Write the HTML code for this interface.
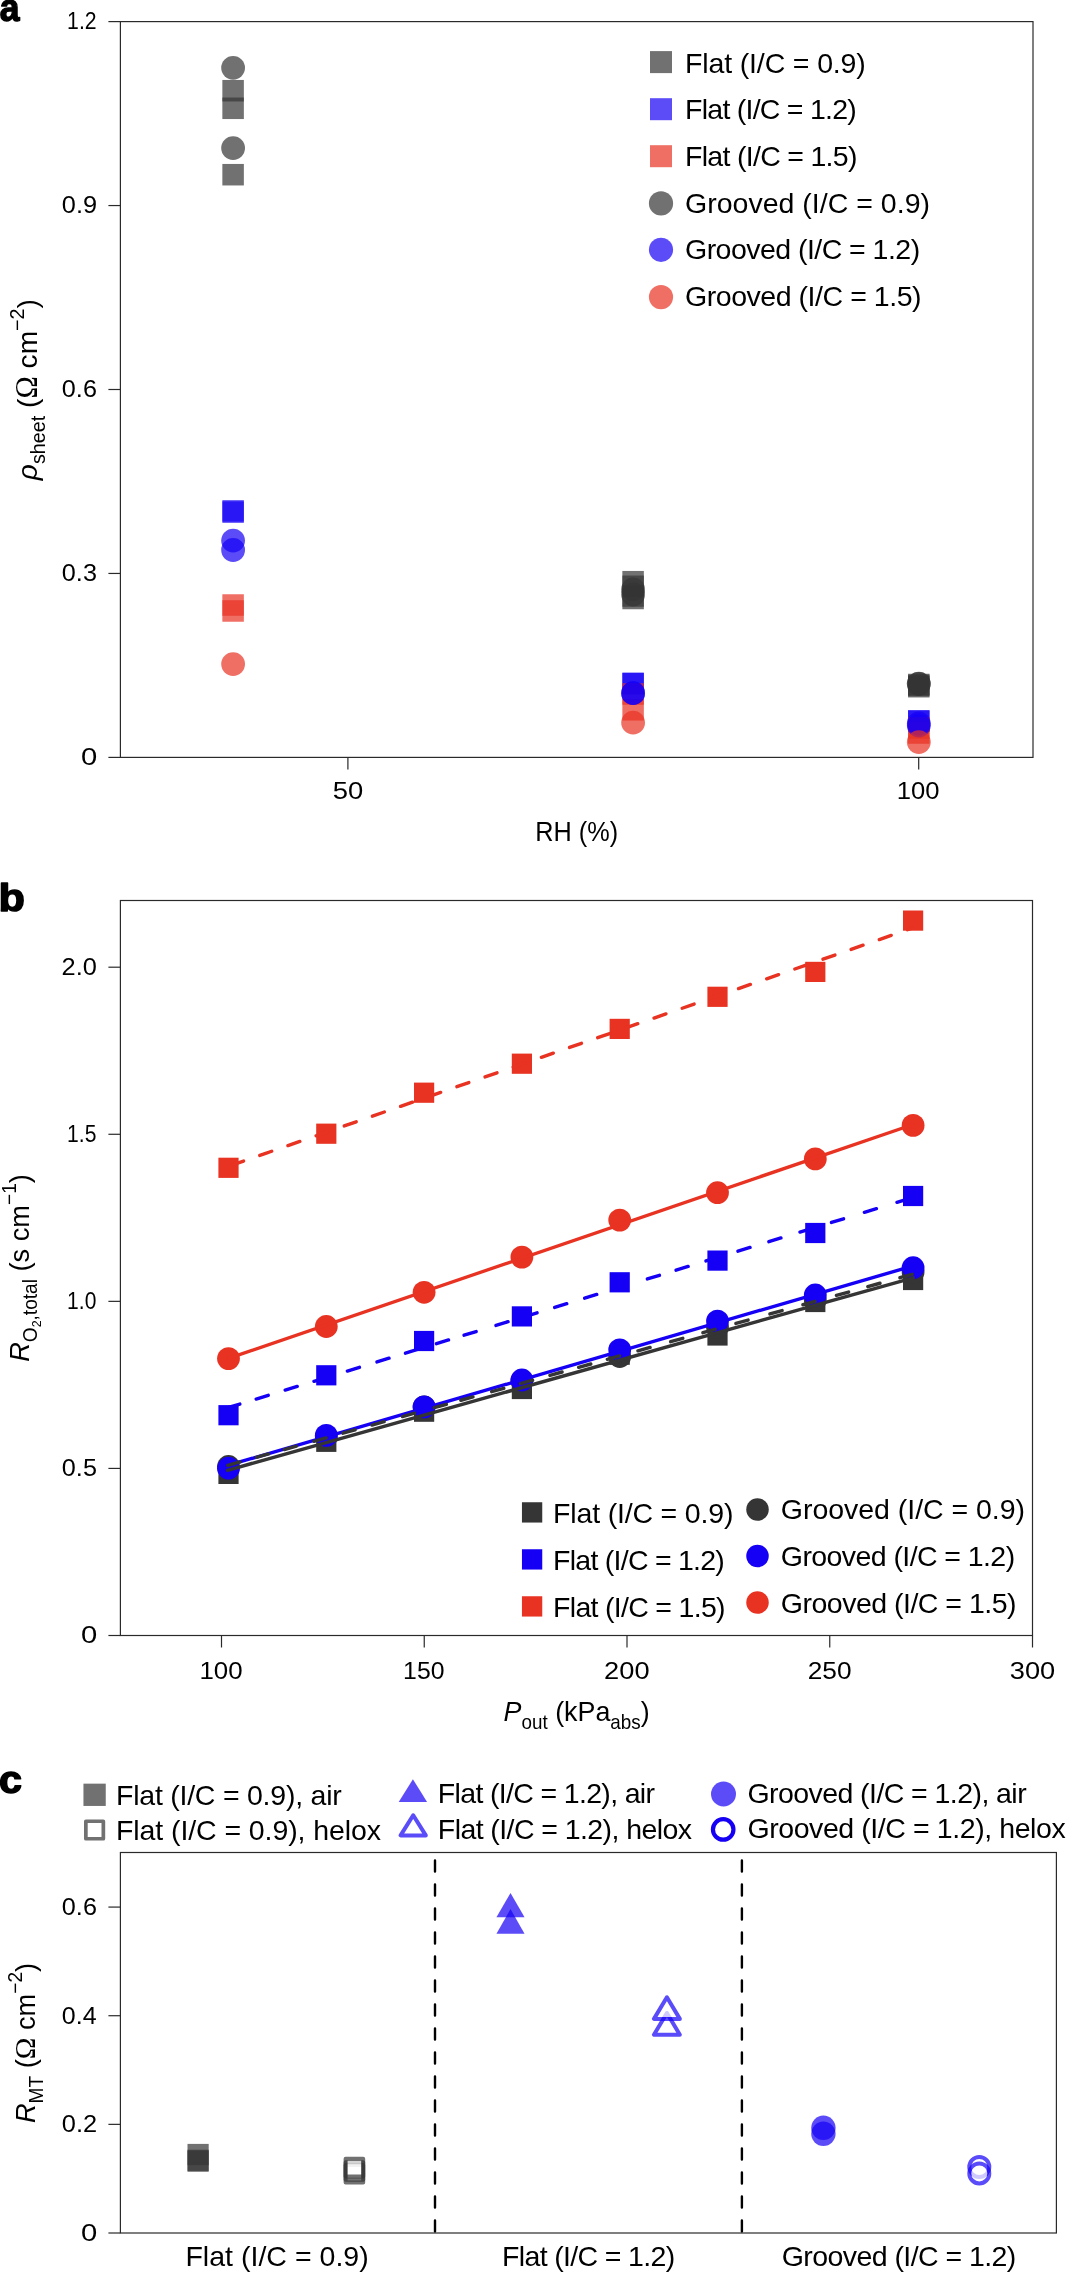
<!DOCTYPE html><html><head><meta charset="utf-8"><style>html,body{margin:0;padding:0;background:#fff;}svg{display:block;}</style></head><body><svg width="1067" height="2272" viewBox="0 0 1067 2272" font-family="'Liberation Sans', sans-serif" fill="#000">
<rect width="1067" height="2272" fill="#fff"/>
<defs><filter id="gs" filterUnits="userSpaceOnUse" x="0" y="0" width="1067" height="2272"><feOffset dx="0" dy="0"/></filter></defs>
<g filter="url(#gs)">
<text x="-0.31" y="20.90" font-size="38.5" textLength="19.75" lengthAdjust="spacingAndGlyphs" font-weight="bold" stroke="#000" stroke-width="1.4" stroke-linejoin="round">a</text>
<line x1="108.40" y1="757.40" x2="120.40" y2="757.40" stroke="#2a2a2a" stroke-width="1.2" />
<text x="80.90" y="765.20" font-size="24" textLength="16.25" lengthAdjust="spacingAndGlyphs"  >0</text>
<line x1="108.40" y1="573.45" x2="120.40" y2="573.45" stroke="#2a2a2a" stroke-width="1.2" />
<text x="61.85" y="581.25" font-size="24" textLength="35.07" lengthAdjust="spacingAndGlyphs"  >0.3</text>
<line x1="108.40" y1="389.50" x2="120.40" y2="389.50" stroke="#2a2a2a" stroke-width="1.2" />
<text x="61.85" y="397.30" font-size="24" textLength="35.07" lengthAdjust="spacingAndGlyphs"  >0.6</text>
<line x1="108.40" y1="205.55" x2="120.40" y2="205.55" stroke="#2a2a2a" stroke-width="1.2" />
<text x="61.85" y="213.35" font-size="24" textLength="35.18" lengthAdjust="spacingAndGlyphs"  >0.9</text>
<line x1="108.40" y1="21.60" x2="120.40" y2="21.60" stroke="#2a2a2a" stroke-width="1.2" />
<text x="67.11" y="29.40" font-size="24" textLength="29.51" lengthAdjust="spacingAndGlyphs"  >1.2</text>
<line x1="347.90" y1="757.40" x2="347.90" y2="769.40" stroke="#2a2a2a" stroke-width="1.2" />
<text x="332.66" y="798.50" font-size="24" textLength="30.48" lengthAdjust="spacingAndGlyphs"  >50</text>
<line x1="918.70" y1="757.40" x2="918.70" y2="769.40" stroke="#2a2a2a" stroke-width="1.2" />
<text x="896.88" y="798.50" font-size="24" textLength="42.73" lengthAdjust="spacingAndGlyphs"  >100</text>
<text x="535.36" y="840.70" font-size="28.5" textLength="82.73" lengthAdjust="spacingAndGlyphs"  >RH (%)</text>
<text transform="translate(36.8,389.6) rotate(-90) scale(0.987,1)" font-size="28.5" text-anchor="middle"><tspan font-style="italic">ρ</tspan><tspan font-size="20" dy="8.2">sheet</tspan><tspan dy="-8.2"> (</tspan><tspan font-family="Liberation Serif" font-size="30.5">Ω</tspan><tspan> cm</tspan><tspan font-size="20" dy="-13">−2</tspan><tspan dy="13">)</tspan></text>
<rect x="222.35" y="79.95" width="21.5" height="21.5" fill="#353535" fill-opacity="0.7" />
<rect x="222.35" y="97.55" width="21.5" height="21.5" fill="#353535" fill-opacity="0.7" />
<rect x="222.35" y="163.95" width="21.5" height="21.5" fill="#353535" fill-opacity="0.7" />
<rect x="222.35" y="500.15" width="21.5" height="21.5" fill="#1500f5" fill-opacity="0.7" />
<rect x="222.35" y="501.35" width="21.5" height="21.5" fill="#1500f5" fill-opacity="0.7" />
<rect x="222.35" y="594.25" width="21.5" height="21.5" fill="#e83222" fill-opacity="0.7" />
<rect x="222.35" y="600.25" width="21.5" height="21.5" fill="#e83222" fill-opacity="0.7" />
<circle cx="233.10" cy="67.80" r="11.90" fill="#353535" fill-opacity="0.7" />
<circle cx="233.10" cy="148.10" r="11.90" fill="#353535" fill-opacity="0.7" />
<circle cx="233.10" cy="540.60" r="11.90" fill="#1500f5" fill-opacity="0.7" />
<circle cx="233.10" cy="550.00" r="11.90" fill="#1500f5" fill-opacity="0.7" />
<circle cx="233.10" cy="664.10" r="11.90" fill="#e83222" fill-opacity="0.7" />
<rect x="622.35" y="570.95" width="21.5" height="21.5" fill="#353535" fill-opacity="0.7" />
<rect x="622.35" y="575.55" width="21.5" height="21.5" fill="#353535" fill-opacity="0.7" />
<rect x="622.35" y="585.25" width="21.5" height="21.5" fill="#353535" fill-opacity="0.7" />
<rect x="622.35" y="587.75" width="21.5" height="21.5" fill="#353535" fill-opacity="0.7" />
<rect x="622.35" y="672.75" width="21.5" height="21.5" fill="#1500f5" fill-opacity="0.7" />
<rect x="622.35" y="672.75" width="21.5" height="21.5" fill="#1500f5" fill-opacity="0.7" />
<rect x="622.35" y="683.25" width="21.5" height="21.5" fill="#e83222" fill-opacity="0.7" />
<rect x="622.35" y="699.05" width="21.5" height="21.5" fill="#e83222" fill-opacity="0.7" />
<circle cx="633.10" cy="589.30" r="11.90" fill="#353535" fill-opacity="0.7" />
<circle cx="633.10" cy="594.50" r="11.90" fill="#353535" fill-opacity="0.7" />
<circle cx="633.10" cy="693.20" r="11.90" fill="#1500f5" fill-opacity="0.7" />
<circle cx="633.10" cy="693.20" r="11.90" fill="#1500f5" fill-opacity="0.7" />
<circle cx="633.10" cy="722.70" r="11.90" fill="#e83222" fill-opacity="0.7" />
<rect x="908.05" y="673.75" width="21.5" height="21.5" fill="#353535" fill-opacity="0.7" />
<rect x="908.05" y="674.75" width="21.5" height="21.5" fill="#353535" fill-opacity="0.7" />
<rect x="908.05" y="675.95" width="21.5" height="21.5" fill="#353535" fill-opacity="0.7" />
<rect x="908.05" y="710.25" width="21.5" height="21.5" fill="#1500f5" fill-opacity="0.7" />
<rect x="908.05" y="710.25" width="21.5" height="21.5" fill="#1500f5" fill-opacity="0.7" />
<rect x="908.05" y="717.25" width="21.5" height="21.5" fill="#e83222" fill-opacity="0.7" />
<rect x="908.05" y="722.25" width="21.5" height="21.5" fill="#e83222" fill-opacity="0.7" />
<circle cx="918.80" cy="683.60" r="11.90" fill="#353535" fill-opacity="0.7" />
<circle cx="918.80" cy="684.00" r="11.90" fill="#353535" fill-opacity="0.7" />
<circle cx="918.80" cy="723.50" r="11.90" fill="#1500f5" fill-opacity="0.7" />
<circle cx="918.80" cy="725.50" r="11.90" fill="#1500f5" fill-opacity="0.7" />
<circle cx="918.80" cy="742.20" r="11.90" fill="#e83222" fill-opacity="0.7" />
<rect x="120.4" y="21.6" width="912.6" height="735.8" fill="none" stroke="#2a2a2a" stroke-width="1.2"/>
<rect x="650.00" y="51.10" width="22" height="22" fill="#353535" fill-opacity="0.7" />
<text x="685.00" y="72.60" font-size="28.5" textLength="180.83" lengthAdjust="spacing"  >Flat (I/C = 0.9)</text>
<rect x="650.00" y="98.20" width="22" height="22" fill="#1500f5" fill-opacity="0.7" />
<text x="685.00" y="119.28" font-size="28.5" textLength="171.83" lengthAdjust="spacing"  >Flat (I/C = 1.2)</text>
<rect x="650.00" y="145.20" width="22" height="22" fill="#e83222" fill-opacity="0.7" />
<text x="685.00" y="165.96" font-size="28.5" textLength="172.43" lengthAdjust="spacing"  >Flat (I/C = 1.5)</text>
<circle cx="661.00" cy="203.40" r="12.10" fill="#353535" fill-opacity="0.7" />
<text x="685.00" y="212.64" font-size="28.5" textLength="245.03" lengthAdjust="spacing"  >Grooved (I/C = 0.9)</text>
<circle cx="661.00" cy="249.80" r="12.10" fill="#1500f5" fill-opacity="0.7" />
<text x="685.00" y="259.32" font-size="28.5" textLength="235.13" lengthAdjust="spacing"  >Grooved (I/C = 1.2)</text>
<circle cx="661.00" cy="297.10" r="12.10" fill="#e83222" fill-opacity="0.7" />
<text x="685.00" y="306.00" font-size="28.5" textLength="236.53" lengthAdjust="spacing"  >Grooved (I/C = 1.5)</text>
<text x="-1.41" y="911.00" font-size="38.5" textLength="26.43" lengthAdjust="spacingAndGlyphs" font-weight="bold" stroke="#000" stroke-width="1.4" stroke-linejoin="round">b</text>
<line x1="108.40" y1="1635.50" x2="120.40" y2="1635.50" stroke="#2a2a2a" stroke-width="1.2" />
<text x="80.90" y="1643.30" font-size="24" textLength="16.25" lengthAdjust="spacingAndGlyphs"  >0</text>
<line x1="108.40" y1="1468.42" x2="120.40" y2="1468.42" stroke="#2a2a2a" stroke-width="1.2" />
<text x="61.85" y="1476.22" font-size="24" textLength="35.07" lengthAdjust="spacingAndGlyphs"  >0.5</text>
<line x1="108.40" y1="1301.35" x2="120.40" y2="1301.35" stroke="#2a2a2a" stroke-width="1.2" />
<text x="67.12" y="1309.15" font-size="24" textLength="29.22" lengthAdjust="spacingAndGlyphs"  >1.0</text>
<line x1="108.40" y1="1134.28" x2="120.40" y2="1134.28" stroke="#2a2a2a" stroke-width="1.2" />
<text x="67.12" y="1142.08" font-size="24" textLength="29.32" lengthAdjust="spacingAndGlyphs"  >1.5</text>
<line x1="108.40" y1="967.20" x2="120.40" y2="967.20" stroke="#2a2a2a" stroke-width="1.2" />
<text x="61.53" y="975.00" font-size="24" textLength="35.29" lengthAdjust="spacingAndGlyphs"  >2.0</text>
<line x1="221.50" y1="1635.50" x2="221.50" y2="1647.50" stroke="#2a2a2a" stroke-width="1.2" />
<text x="199.46" y="1679.40" font-size="24" textLength="43.16" lengthAdjust="spacingAndGlyphs"  >100</text>
<line x1="424.25" y1="1635.50" x2="424.25" y2="1647.50" stroke="#2a2a2a" stroke-width="1.2" />
<text x="403.14" y="1679.40" font-size="24" textLength="41.33" lengthAdjust="spacingAndGlyphs"  >150</text>
<line x1="627.00" y1="1635.50" x2="627.00" y2="1647.50" stroke="#2a2a2a" stroke-width="1.2" />
<text x="604.14" y="1679.40" font-size="24" textLength="45.43" lengthAdjust="spacingAndGlyphs"  >200</text>
<line x1="829.75" y1="1635.50" x2="829.75" y2="1647.50" stroke="#2a2a2a" stroke-width="1.2" />
<text x="807.69" y="1679.40" font-size="24" textLength="43.85" lengthAdjust="spacingAndGlyphs"  >250</text>
<line x1="1032.50" y1="1635.50" x2="1032.50" y2="1647.50" stroke="#2a2a2a" stroke-width="1.2" />
<text x="1009.83" y="1679.40" font-size="24" textLength="45.39" lengthAdjust="spacingAndGlyphs"  >300</text>
<text transform="translate(576.6,1721.3) scale(0.942,1)" font-size="28.5" text-anchor="middle"><tspan font-style="italic">P</tspan><tspan font-size="20" dy="8">out</tspan><tspan dy="-8"> (kPa</tspan><tspan font-size="20" dy="8">abs</tspan><tspan dy="-8">)</tspan></text>
<text transform="translate(28.6,1268) rotate(-90) scale(0.955,1)" font-size="28.5" text-anchor="middle"><tspan font-style="italic">R</tspan><tspan font-size="20" dy="8.4">O</tspan><tspan font-size="13" dy="4.2">2</tspan><tspan font-size="20" dy="-4.2">,total</tspan><tspan dy="-8.4"> (s cm</tspan><tspan font-size="20" dy="-13">−1</tspan><tspan dy="13">)</tspan></text>
<rect x="218.40" y="1463.80" width="20.2" height="20.2" fill="#353535" fill-opacity="1" />
<rect x="316.20" y="1431.70" width="20.2" height="20.2" fill="#353535" fill-opacity="1" />
<rect x="414.00" y="1401.60" width="20.2" height="20.2" fill="#353535" fill-opacity="1" />
<rect x="511.80" y="1378.90" width="20.2" height="20.2" fill="#353535" fill-opacity="1" />
<rect x="609.60" y="1344.60" width="20.2" height="20.2" fill="#353535" fill-opacity="1" />
<rect x="707.40" y="1325.40" width="20.2" height="20.2" fill="#353535" fill-opacity="1" />
<rect x="805.20" y="1291.90" width="20.2" height="20.2" fill="#353535" fill-opacity="1" />
<rect x="903.00" y="1269.90" width="20.2" height="20.2" fill="#353535" fill-opacity="1" />
<circle cx="228.50" cy="1466.50" r="11.40" fill="#353535" fill-opacity="1" />
<circle cx="326.30" cy="1437.00" r="11.40" fill="#353535" fill-opacity="1" />
<circle cx="424.10" cy="1407.00" r="11.40" fill="#353535" fill-opacity="1" />
<circle cx="521.90" cy="1381.00" r="11.40" fill="#353535" fill-opacity="1" />
<circle cx="619.70" cy="1356.50" r="11.40" fill="#353535" fill-opacity="1" />
<circle cx="717.50" cy="1327.00" r="11.40" fill="#353535" fill-opacity="1" />
<circle cx="815.30" cy="1300.00" r="11.40" fill="#353535" fill-opacity="1" />
<circle cx="913.10" cy="1272.00" r="11.40" fill="#353535" fill-opacity="1" />
<rect x="218.40" y="1405.10" width="20.2" height="20.2" fill="#1500f5" fill-opacity="1" />
<rect x="316.20" y="1365.20" width="20.2" height="20.2" fill="#1500f5" fill-opacity="1" />
<rect x="414.00" y="1330.90" width="20.2" height="20.2" fill="#1500f5" fill-opacity="1" />
<rect x="511.80" y="1306.30" width="20.2" height="20.2" fill="#1500f5" fill-opacity="1" />
<rect x="609.60" y="1272.20" width="20.2" height="20.2" fill="#1500f5" fill-opacity="1" />
<rect x="707.40" y="1250.50" width="20.2" height="20.2" fill="#1500f5" fill-opacity="1" />
<rect x="805.20" y="1222.90" width="20.2" height="20.2" fill="#1500f5" fill-opacity="1" />
<rect x="903.00" y="1185.90" width="20.2" height="20.2" fill="#1500f5" fill-opacity="1" />
<circle cx="228.50" cy="1468.20" r="11.40" fill="#1500f5" fill-opacity="1" />
<circle cx="326.30" cy="1435.40" r="11.40" fill="#1500f5" fill-opacity="1" />
<circle cx="424.10" cy="1406.90" r="11.40" fill="#1500f5" fill-opacity="1" />
<circle cx="521.90" cy="1380.00" r="11.40" fill="#1500f5" fill-opacity="1" />
<circle cx="619.70" cy="1349.80" r="11.40" fill="#1500f5" fill-opacity="1" />
<circle cx="717.50" cy="1321.10" r="11.40" fill="#1500f5" fill-opacity="1" />
<circle cx="815.30" cy="1295.00" r="11.40" fill="#1500f5" fill-opacity="1" />
<circle cx="913.10" cy="1267.70" r="11.40" fill="#1500f5" fill-opacity="1" />
<rect x="218.40" y="1157.70" width="20.2" height="20.2" fill="#e83222" fill-opacity="1" />
<rect x="316.20" y="1123.60" width="20.2" height="20.2" fill="#e83222" fill-opacity="1" />
<rect x="414.00" y="1082.60" width="20.2" height="20.2" fill="#e83222" fill-opacity="1" />
<rect x="511.80" y="1053.60" width="20.2" height="20.2" fill="#e83222" fill-opacity="1" />
<rect x="609.60" y="1018.80" width="20.2" height="20.2" fill="#e83222" fill-opacity="1" />
<rect x="707.40" y="986.70" width="20.2" height="20.2" fill="#e83222" fill-opacity="1" />
<rect x="805.20" y="961.80" width="20.2" height="20.2" fill="#e83222" fill-opacity="1" />
<rect x="903.00" y="910.50" width="20.2" height="20.2" fill="#e83222" fill-opacity="1" />
<circle cx="228.50" cy="1358.60" r="11.40" fill="#e83222" fill-opacity="1" />
<circle cx="326.30" cy="1326.50" r="11.40" fill="#e83222" fill-opacity="1" />
<circle cx="424.10" cy="1292.30" r="11.40" fill="#e83222" fill-opacity="1" />
<circle cx="521.90" cy="1257.10" r="11.40" fill="#e83222" fill-opacity="1" />
<circle cx="619.70" cy="1220.10" r="11.40" fill="#e83222" fill-opacity="1" />
<circle cx="717.50" cy="1192.70" r="11.40" fill="#e83222" fill-opacity="1" />
<circle cx="815.30" cy="1158.90" r="11.40" fill="#e83222" fill-opacity="1" />
<circle cx="913.10" cy="1125.40" r="11.40" fill="#e83222" fill-opacity="1" />
<path d="M231.65 1165.20L243.55 1161.06M259.80 1155.40L271.70 1151.25M287.96 1145.59L299.86 1141.44M316.12 1135.77L328.02 1131.63M344.28 1125.96L356.18 1121.82M372.44 1116.15L384.34 1112.01M400.60 1106.34L412.50 1102.20M428.76 1096.53L440.66 1092.39M456.92 1086.72L468.82 1082.58M485.08 1076.91L496.98 1072.77M513.24 1067.10L525.14 1062.96M541.40 1057.29L553.30 1053.15M569.56 1047.48L581.46 1043.34M597.72 1037.67L609.62 1033.53M625.88 1027.86L637.78 1023.72M654.04 1018.05L665.94 1013.91M682.20 1008.24L694.10 1004.10M710.36 998.43L722.26 994.28M738.52 988.62L750.42 984.47M766.68 978.81L778.58 974.66M794.84 969.00L806.74 964.85M823.00 959.19L834.90 955.04M851.16 949.38L863.06 945.23M879.32 939.57L891.22 935.42M907.48 929.76L913.10 927.80" stroke="#e83222" stroke-width="3.4" stroke-linecap="round" fill="none"/>
<line x1="228.50" y1="1358.40" x2="913.10" y2="1124.50" stroke="#e83222" stroke-width="3.4" stroke-linecap="round"/>
<path d="M228.50 1407.50L239.82 1404.03M256.18 1399.01L268.22 1395.31M285.18 1390.11L297.22 1386.41M313.98 1381.27L326.02 1377.57M347.38 1371.02L359.42 1367.32M376.98 1361.93L389.02 1358.24M405.48 1353.19L417.52 1349.49M436.48 1343.67L448.52 1339.98M464.08 1335.20L476.12 1331.51M495.98 1325.41L508.02 1321.72M524.98 1316.51L537.02 1312.82M554.68 1307.40L566.72 1303.70M584.68 1298.19L596.72 1294.49M614.98 1288.89L627.02 1285.20M647.38 1278.95L659.42 1275.25M676.08 1270.14L688.12 1266.44M705.98 1260.96L718.02 1257.27M737.98 1251.14L750.02 1247.45M768.88 1241.66L780.92 1237.96M799.98 1232.12L812.02 1228.42M831.48 1222.45L843.52 1218.75M864.38 1212.35L876.42 1208.66M896.98 1202.35L909.02 1198.65" stroke="#1500f5" stroke-width="3.4" stroke-linecap="round" fill="none"/>
<line x1="228.50" y1="1465.20" x2="913.10" y2="1265.80" stroke="#1500f5" stroke-width="3.4" stroke-linecap="round"/>
<path d="M227.73 1465.34L239.87 1461.95M256.33 1457.35L268.47 1453.96M284.23 1449.56L296.37 1446.17M313.93 1441.27L326.07 1437.88M342.93 1433.17L355.07 1429.79M371.93 1425.08L384.07 1421.69M402.43 1416.56L414.57 1413.18M434.23 1407.69L446.37 1404.30M460.83 1400.26L472.97 1396.87M491.63 1391.66L503.77 1388.27M520.43 1383.62L532.57 1380.23M549.93 1375.39L562.07 1372.00M578.63 1367.37L590.77 1363.99M607.33 1359.36L619.47 1355.97M637.93 1350.82L650.07 1347.43M670.63 1341.69L682.77 1338.30M702.93 1332.67L715.07 1329.28M735.93 1323.46L748.07 1320.07M769.93 1313.97L782.07 1310.58M802.93 1304.76L815.07 1301.37M836.43 1295.40L848.57 1292.02M867.83 1286.64L879.97 1283.25M899.93 1277.68L912.07 1274.29" stroke="#353535" stroke-width="3.4" stroke-linecap="round" fill="none"/>
<line x1="227.50" y1="1470.30" x2="913.10" y2="1277.80" stroke="#353535" stroke-width="3.4" stroke-linecap="round"/>
<rect x="120.4" y="900.5" width="912.1" height="735.0" fill="none" stroke="#2a2a2a" stroke-width="1.2"/>
<rect x="521.95" y="1502.25" width="20.3" height="20.3" fill="#353535" fill-opacity="1" />
<text x="553.10" y="1522.60" font-size="28.5" textLength="180.33" lengthAdjust="spacing"  >Flat (I/C = 0.9)</text>
<circle cx="757.50" cy="1509.50" r="11.25" fill="#353535" fill-opacity="1" />
<text x="780.80" y="1519.30" font-size="28.5" textLength="244.23" lengthAdjust="spacing"  >Grooved (I/C = 0.9)</text>
<rect x="521.95" y="1549.25" width="20.3" height="20.3" fill="#1500f5" fill-opacity="1" />
<text x="553.10" y="1569.60" font-size="28.5" textLength="171.73" lengthAdjust="spacing"  >Flat (I/C = 1.2)</text>
<circle cx="757.50" cy="1556.00" r="11.25" fill="#1500f5" fill-opacity="1" />
<text x="780.80" y="1566.30" font-size="28.5" textLength="234.33" lengthAdjust="spacing"  >Grooved (I/C = 1.2)</text>
<rect x="521.95" y="1596.25" width="20.3" height="20.3" fill="#e83222" fill-opacity="1" />
<text x="553.10" y="1616.60" font-size="28.5" textLength="172.43" lengthAdjust="spacing"  >Flat (I/C = 1.5)</text>
<circle cx="757.50" cy="1602.50" r="11.25" fill="#e83222" fill-opacity="1" />
<text x="780.80" y="1613.30" font-size="28.5" textLength="235.73" lengthAdjust="spacing"  >Grooved (I/C = 1.5)</text>
<text x="-0.91" y="1792.60" font-size="38.5" textLength="23.01" lengthAdjust="spacingAndGlyphs" font-weight="bold" stroke="#000" stroke-width="1.4" stroke-linejoin="round">c</text>
<line x1="108.40" y1="2233.00" x2="120.40" y2="2233.00" stroke="#2a2a2a" stroke-width="1.2" />
<text x="80.90" y="2240.80" font-size="24" textLength="16.25" lengthAdjust="spacingAndGlyphs"  >0</text>
<line x1="108.40" y1="2124.36" x2="120.40" y2="2124.36" stroke="#2a2a2a" stroke-width="1.2" />
<text x="61.85" y="2132.16" font-size="24" textLength="35.29" lengthAdjust="spacingAndGlyphs"  >0.2</text>
<line x1="108.40" y1="2015.72" x2="120.40" y2="2015.72" stroke="#2a2a2a" stroke-width="1.2" />
<text x="61.86" y="2023.52" font-size="24" textLength="34.73" lengthAdjust="spacingAndGlyphs"  >0.4</text>
<line x1="108.40" y1="1907.08" x2="120.40" y2="1907.08" stroke="#2a2a2a" stroke-width="1.2" />
<text x="61.85" y="1914.88" font-size="24" textLength="35.07" lengthAdjust="spacingAndGlyphs"  >0.6</text>
<text transform="translate(35.2,2043) rotate(-90) scale(0.955,1)" font-size="28.5" text-anchor="middle"><tspan font-style="italic">R</tspan><tspan font-size="20" dy="8.2">MT</tspan><tspan dy="-8.2"> (</tspan><tspan font-family="Liberation Serif" font-size="30.5">Ω</tspan><tspan> cm</tspan><tspan font-size="20" dy="-13">−2</tspan><tspan dy="13">)</tspan></text>
<text x="185.40" y="2266.30" font-size="28.5" textLength="183.33" lengthAdjust="spacing"  >Flat (I/C = 0.9)</text>
<text x="502.10" y="2266.30" font-size="28.5" textLength="173.03" lengthAdjust="spacing"  >Flat (I/C = 1.2)</text>
<text x="781.70" y="2266.30" font-size="28.5" textLength="234.63" lengthAdjust="spacing"  >Grooved (I/C = 1.2)</text>
<line x1="435.00" y1="1860.50" x2="435.00" y2="2233.00" stroke="#000" stroke-width="2.4" stroke-dasharray="11 13" stroke-linecap="round"/>
<line x1="741.90" y1="1860.50" x2="741.90" y2="2233.00" stroke="#000" stroke-width="2.4" stroke-dasharray="11 13" stroke-linecap="round"/>
<rect x="187.50" y="2143.90" width="21.2" height="21.2" fill="#353535" fill-opacity="0.7" />
<rect x="187.50" y="2149.70" width="21.2" height="21.2" fill="#353535" fill-opacity="0.7" />
<rect x="187.50" y="2150.60" width="21.2" height="21.2" fill="#353535" fill-opacity="0.7" />
<g opacity="0.7"><rect x="345.60" y="2164.90" width="17.6" height="17.6" fill="#fff" stroke="#353535" stroke-width="4" stroke-linejoin="round"/></g>
<g opacity="0.7"><rect x="345.60" y="2162.20" width="17.6" height="17.6" fill="#fff" stroke="#353535" stroke-width="4" stroke-linejoin="round"/></g>
<g opacity="0.7"><rect x="345.60" y="2158.80" width="17.6" height="17.6" fill="#fff" stroke="#353535" stroke-width="4" stroke-linejoin="round"/></g>
<polygon points="510.5,1909 496.45,1933.7 524.55,1933.7" fill="#1500f5" fill-opacity="0.7"/>
<polygon points="510.5,1893.1 496.45,1917.2 524.55,1917.2" fill="#1500f5" fill-opacity="0.7"/>
<g opacity="0.7"><polygon points="666.9,2013 653.9499999999999,2034.7 679.85,2034.7" fill="#fff" stroke="#1500f5" stroke-width="4" stroke-linejoin="round"/></g>
<g opacity="0.7"><polygon points="666.9,1997.3 653.9499999999999,2018.9 679.85,2018.9" fill="#fff" stroke="#1500f5" stroke-width="4" stroke-linejoin="round"/></g>
<circle cx="823.40" cy="2133.80" r="12.20" fill="#1500f5" fill-opacity="0.7" />
<circle cx="823.40" cy="2127.80" r="12.20" fill="#1500f5" fill-opacity="0.7" />
<g opacity="0.7"><circle cx="979.30" cy="2167.00" r="10.00" fill="#fff" stroke="#1500f5" stroke-width="4"/></g>
<g opacity="0.7"><circle cx="979.30" cy="2173.40" r="10.00" fill="#fff" stroke="#1500f5" stroke-width="4"/></g>
<rect x="120.4" y="1852.5" width="936.0000000000001" height="380.5" fill="none" stroke="#2a2a2a" stroke-width="1.2"/>
<rect x="83.45" y="1783.65" width="22.3" height="22.3" fill="#353535" fill-opacity="0.7" />
<g opacity="0.7"><rect x="85.85" y="1821.25" width="17.5" height="17.5" fill="#fff" stroke="#353535" stroke-width="3.7" stroke-linejoin="round"/></g>
<polygon points="412.9,1779.3 398.7,1801.9 427.1,1801.9" fill="#1500f5" fill-opacity="0.7"/>
<g opacity="0.7"><polygon points="413.2,1815.3 400.6,1835.4 425.8,1835.4" fill="#fff" stroke="#1500f5" stroke-width="4" stroke-linejoin="round"/></g>
<circle cx="723.50" cy="1794.00" r="12.50" fill="#1500f5" fill-opacity="0.7" />
<g opacity="1"><circle cx="723.20" cy="1829.40" r="10.25" fill="#fff" stroke="#1500f5" stroke-width="4.2"/></g>
<text x="116.00" y="1805.00" font-size="28.5" textLength="225.74" lengthAdjust="spacing"  >Flat (I/C = 0.9), air</text>
<text x="116.00" y="1839.70" font-size="28.5" textLength="265.00" lengthAdjust="spacing"  >Flat (I/C = 0.9), helox</text>
<text x="437.80" y="1803.20" font-size="28.5" textLength="217.24" lengthAdjust="spacing"  >Flat (I/C = 1.2), air</text>
<text x="437.80" y="1838.70" font-size="28.5" textLength="254.20" lengthAdjust="spacing"  >Flat (I/C = 1.2), helox</text>
<text x="747.40" y="1802.60" font-size="28.5" textLength="279.24" lengthAdjust="spacing"  >Grooved (I/C = 1.2), air</text>
<text x="747.40" y="1838.20" font-size="28.5" textLength="318.30" lengthAdjust="spacing"  >Grooved (I/C = 1.2), helox</text>
</g>
</svg></body></html>
